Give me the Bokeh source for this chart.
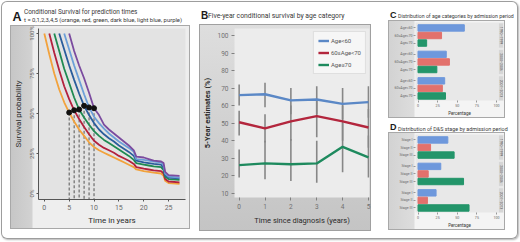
import math
from bokeh.plotting import figure
from bokeh.layouts import row, column
from bokeh.models import Range1d, FixedTicker, NumeralTickFormatter
from bokeh.core.properties import value
from bokeh.embed import file_html
from bokeh.resources import INLINE

FONT = "Roboto"

# ---------------- Panel A data: conditional survival curves ----------------
cs_times = [0, 1, 2, 3, 4, 5]
cs_names = ["orange", "red", "green", "dark blue", "light blue", "purple"]
cs_colors = ["#f2a23c", "#b3213d", "#1f8a52", "#2b5d9c", "#6c9fd8", "#7b4b9f"]

surv_t0_x = [0, 1, 2, 3, 4, 5, 6, 7, 8, 9, 10, 11, 12, 13, 14, 15, 16, 17, 18, 18.5, 20, 21, 22, 23.5, 24, 24.3, 25, 27.2]
surv_t0_y = [1.0, 0.87, 0.75, 0.65, 0.57, 0.506, 0.45, 0.40, 0.36, 0.32, 0.29, 0.27, 0.255, 0.24, 0.225, 0.21, 0.195, 0.18, 0.165, 0.15, 0.14, 0.135, 0.13, 0.125, 0.11, 0.08, 0.065, 0.06]
surv_t1_x = [1, 2, 3, 4, 5, 6, 7, 8, 9, 10, 11, 12, 13, 14, 15, 16, 17, 18, 18.5, 20, 21, 22, 23.5, 24, 24.3, 25, 27.2]
surv_t1_y = [1.0, 0.88, 0.77, 0.67, 0.59, 0.52, 0.465, 0.415, 0.37, 0.33, 0.305, 0.285, 0.27, 0.255, 0.235, 0.22, 0.205, 0.185, 0.165, 0.155, 0.15, 0.145, 0.14, 0.125, 0.09, 0.075, 0.07]
surv_t2_x = [2, 3, 4, 5, 6, 7, 8, 9, 10, 11, 12, 13, 14, 15, 16, 17, 18, 18.5, 20, 21, 22, 23.5, 24, 24.3, 25, 27.2]
surv_t2_y = [1.0, 0.89, 0.78, 0.69, 0.60, 0.525, 0.475, 0.43, 0.39, 0.36, 0.335, 0.315, 0.295, 0.275, 0.255, 0.235, 0.21, 0.19, 0.18, 0.175, 0.17, 0.165, 0.145, 0.105, 0.09, 0.085]
surv_t3_x = [3, 4, 5, 6, 7, 8, 9, 10, 11, 12, 13, 14, 15, 16, 17, 18, 18.5, 20, 21, 22, 23.5, 24, 24.3, 25, 27.2]
surv_t3_y = [1.0, 0.90, 0.80, 0.71, 0.625, 0.548, 0.49, 0.44, 0.40, 0.37, 0.345, 0.325, 0.30, 0.28, 0.26, 0.235, 0.205, 0.195, 0.19, 0.185, 0.18, 0.16, 0.115, 0.10, 0.095]
surv_t4_x = [4, 5, 6, 7, 8, 9, 10, 11, 12, 13, 14, 15, 16, 17, 18, 18.5, 20, 21, 22, 23.5, 24, 24.3, 25, 27.2]
surv_t4_y = [1.0, 0.90, 0.80, 0.71, 0.62, 0.538, 0.48, 0.44, 0.405, 0.375, 0.35, 0.325, 0.305, 0.285, 0.26, 0.215, 0.21, 0.205, 0.20, 0.195, 0.175, 0.125, 0.105, 0.10]
surv_t5_x = [5, 6, 7, 8, 9, 10, 11, 12, 13, 14, 15, 16, 17, 18, 18.5, 20, 21, 22, 23.5, 24, 24.3, 25, 27.2]
surv_t5_y = [1.0, 0.89, 0.80, 0.72, 0.63, 0.533, 0.49, 0.43, 0.40, 0.375, 0.35, 0.325, 0.30, 0.27, 0.23, 0.225, 0.215, 0.205, 0.20, 0.19, 0.135, 0.115, 0.11]

cs_horizon = 5
cs_five_year = [0.506, 0.52, 0.525, 0.548, 0.538, 0.533]
a_xticks = [0, 5, 10, 15, 20, 25]
a_yticks = [0, 0.25, 0.5, 0.75, 1.0]

# ---------------- Panel B data ----------------
b_years = [0, 1, 2, 3, 4, 5]
b_labels = ["Age<60", "60\u2264Age<70", "Age\u226570"]
b_colors = ["#5b88c6", "#b3263d", "#1e8a5e"]
b_lt60 = [66, 66.5, 63, 63.5, 61, 62]
b_lt60_lo = [60, 59, 55, 55, 52, 53]
b_lt60_hi = [72, 73, 70, 71, 70, 71]
b_60to70 = [50.5, 47, 51, 54, 51, 47.5]
b_60to70_lo = [43, 39, 40, 42, 40, 36]
b_60to70_hi = [57, 55, 60, 63, 60, 58]
b_ge70 = [26, 27, 26.5, 27, 36.5, 30.5]
b_ge70_lo = [19, 18, 17, 16, 22, 19]
b_ge70_hi = [35, 40, 41, 40, 50, 43]
b_yticks = [10, 20, 30, 40, 50, 60, 70, 80, 90, 100]

# ---------------- Panels C / D data ----------------
periods = ["1990\u20131999", "2000\u20132006", "2007\u20132013"]
c_labels = ["Age<60", "60\u2264Age<70", "Age\u226570"]
c_lt60 = [59, 36, 34]
c_60to70 = [30, 40, 31]
c_ge70 = [11, 24, 35]
d_labels = ["Stage I", "Stage II", "Stage III"]
d_stage1 = [38, 29, 23]
d_stage2 = [16, 13, 12]
d_stage3 = [46, 58, 65]
bar_colors = ["#6e98dc", "#e2716c", "#23956a"]
cd_xticks = [0, 25, 50, 75, 100]


def text_panel(w, h, letter, lx, ly, lsize, lines):
    p = figure(width=w, height=h, x_range=Range1d(0, w), y_range=Range1d(h, 0),
               output_backend="svg", toolbar_location=None, min_border=0,
               x_axis_location=None, y_axis_location=None,
               outline_line_color=None, background_fill_color=None, border_fill_color=None)
    p.grid.visible = False
    p.text(x=[lx], y=[ly], text=[letter], text_font=value("Liberation Sans"),
           text_font_size=lsize, text_font_style="bold", text_color="#1a1a1a",
           text_baseline="middle", text_align="left")
    for (x, y, s, fs) in lines:
        p.text(x=[x], y=[y], text=[s], text_font=value(FONT), text_font_size=fs,
               text_color="#383838", text_baseline="middle", text_align="left")
    return row(p, spacing=0)


def style_axes(p, tick_size, label_size, tick_color="#666666", label_color="#333333"):
    p.axis.major_label_text_font = FONT
    p.axis.axis_label_text_font = FONT
    p.axis.major_label_text_font_size = tick_size
    p.axis.axis_label_text_font_size = label_size
    p.axis.major_label_text_color = tick_color
    p.axis.axis_label_text_color = label_color
    p.axis.axis_label_text_font_style = "normal"
    p.axis.minor_tick_line_color = None
    p.grid.visible = False


# ---------------- Panel A ----------------
tA = text_panel(180, 24, "A", 2, 15, "12.5px",
                [(13.5, 10, "Conditional Survival for prediction times", "6.4px"),
                 (13.5, 18, "t = 0,1,2,3,4,5 (orange, red, green, dark blue, light blue, purple)", "5.9px")])

pA = figure(width=180, height=204, x_range=Range1d(-1.17, 28.4), y_range=Range1d(-0.0375, 1.031),
            output_backend="svg", toolbar_location=None,
            min_border_left=23, min_border_right=5, min_border_top=3, min_border_bottom=30,
            background_fill_color="#e3e3e3", border_fill_color=None, outline_line_color=None)
pA.styles = {"background": "linear-gradient(to right, #c6c6c6 0px, #d2d2d2 22px, #eeeeee 23px)",
             "box-shadow": "inset 0 0 0 1px #a8a8a8"}
style_axes(pA, "7px", "8px", tick_color="#6a6a6a", label_color="#2a2a2a")
pA.xaxis.ticker = FixedTicker(ticks=a_xticks)
pA.yaxis.ticker = FixedTicker(ticks=a_yticks)
pA.yaxis.formatter = NumeralTickFormatter(format="0%")
pA.yaxis.major_label_orientation = "vertical"
pA.yaxis.major_label_text_font_size = "6px"
pA.axis.axis_line_color = "#555555"
pA.axis.major_tick_line_color = "#555555"
pA.axis.major_tick_in = 0
pA.axis.major_tick_out = 2
pA.xaxis.major_label_standoff = 3
pA.yaxis.major_label_standoff = 1
pA.xaxis.axis_label = "Time in years"
pA.yaxis.axis_label = "Survival probability"
pA.xaxis.axis_label_standoff = 3
pA.yaxis.axis_label_standoff = 3

dot_x = [t + cs_horizon for t in cs_times]
y_floor = pA.y_range.start
pA.segment(x0=dot_x, y0=cs_five_year, x1=dot_x, y1=[y_floor] * len(dot_x),
           line_color="#555555", line_width=1, line_dash="3 2")
curves = [(surv_t0_x, surv_t0_y), (surv_t1_x, surv_t1_y), (surv_t2_x, surv_t2_y),
          (surv_t3_x, surv_t3_y), (surv_t4_x, surv_t4_y), (surv_t5_x, surv_t5_y)]
for (xs, ys), col in zip(curves, cs_colors):
    pA.line(xs, ys, line_color=col, line_width=1.8)
pA.scatter(dot_x, cs_five_year, size=5, color="#111111")

# ---------------- Panel B ----------------
tB = text_panel(172, 22, "B", 1.5, 12.5, "10px",
                [(8.5, 13.7, "Five-year conditional survival by age category", "6.8px")])

pB = figure(width=172, height=207, x_range=Range1d(-0.18, 5.04), y_range=Range1d(7.55, 104),
            output_backend="svg", toolbar_location=None,
            min_border_left=29, min_border_right=2, min_border_top=4, min_border_bottom=34,
            background_fill_color="#ececec", border_fill_color=None, outline_line_color=None)
pB.styles = {"background": "linear-gradient(to bottom, #dedede 0%, #c4c4c4 100%)",
             "box-shadow": "inset 0 0 0 1px #a0a0a0"}
style_axes(pB, "6.5px", "7.5px", tick_color="#707070", label_color="#2a2a2a")
pB.xaxis.ticker = FixedTicker(ticks=b_years)
pB.yaxis.ticker = FixedTicker(ticks=b_yticks)
pB.axis.axis_line_color = None
pB.axis.major_tick_line_color = "#808080"
pB.axis.major_tick_in = 0
pB.axis.major_tick_out = 3
pB.axis.major_label_standoff = 3
pB.xaxis.axis_label = "Time since diagnosis (years)"
pB.yaxis.axis_label = "5-Year estimates (%)"
pB.yaxis.axis_label_text_font_style = "bold"
pB.yaxis.axis_label_text_font_size = "7.5px"
pB.xaxis.axis_label_standoff = 4
pB.yaxis.axis_label_standoff = 3

series_b = [(b_lt60, b_lt60_lo, b_lt60_hi), (b_60to70, b_60to70_lo, b_60to70_hi), (b_ge70, b_ge70_lo, b_ge70_hi)]
for (vals, lo, hi) in series_b:
    pB.segment(x0=b_years, y0=lo, x1=b_years, y1=hi, line_color="#878787", line_width=1.6)
for (vals, lo, hi), col, lab in zip(series_b, b_colors, b_labels):
    pB.line(b_years, vals, line_color=col, line_width=2.4, legend_label=lab)
lg = pB.legend[0]
lg.location = "top_right"
lg.margin = 3
lg.padding = 4
lg.spacing = 3
lg.label_standoff = 2
lg.glyph_width = 11
lg.glyph_height = 9
lg.label_height = 9
lg.label_text_font = FONT
lg.label_text_font_size = "6px"
lg.label_text_color = "#555555"
lg.border_line_color = "#c8c8c8"
lg.background_fill_color = "#f7f7f7"
lg.background_fill_alpha = 0.95


# ---------------- Panels C and D ----------------
def bar_panel(labels, s1, s2, s3):
    p = figure(width=117, height=98, x_range=Range1d(-3.2, 108.9), y_range=Range1d(19.2, -1.44),
               output_backend="svg", toolbar_location=None,
               min_border_left=27, min_border_right=2, min_border_top=2, min_border_bottom=13,
               background_fill_color="#e8e8e8", border_fill_color=None, outline_line_color=None)
    p.styles = {"background": "linear-gradient(to right, #d2d2d2 0px, #dddddd 26px, #f4f4f4 27px)",
                "box-shadow": "inset 0 0 0 1px #a8a8a8"}
    style_axes(p, "3.6px", "4.5px", tick_color="#666666", label_color="#333333")
    ticks, overrides = [], {}
    for g in range(len(periods)):
        for i in range(3):
            pos = g * 7 + i * 2
            ticks.append(pos)
            overrides[pos] = labels[i]
    p.yaxis.ticker = FixedTicker(ticks=ticks)
    p.yaxis.major_label_overrides = overrides
    p.xaxis.ticker = FixedTicker(ticks=cd_xticks)
    p.axis.axis_line_color = None
    p.axis.major_tick_line_color = "#999999"
    p.axis.major_tick_in = 0
    p.axis.major_tick_out = 2
    p.axis.major_label_standoff = 1
    p.xaxis.axis_label = "Percentage"
    p.xaxis.axis_label_standoff = 1
    for i, (vals, col) in enumerate(zip([s1, s2, s3], bar_colors)):
        ys = [g * 7 + i * 2 for g in range(len(vals))]
        p.hbar(y=ys, left=0, right=vals, height=1.7, color=col)
    strip_top = [g * 7 - 1.3 for g in range(len(periods))]
    strip_bot = [g * 7 + 5.3 for g in range(len(periods))]
    p.quad(left=102.5, right=108.9, top=strip_top, bottom=strip_bot, fill_color="#d6d6d6",
           line_color="#f0f0f0", line_width=0.5)
    p.text(x=[105.7] * len(periods), y=[g * 7 + 2 for g in range(len(periods))], text=periods,
           angle=-math.pi / 2, text_font=value(FONT), text_font_size="3.4px", text_color="#555555",
           text_align="center", text_baseline="middle")
    return p


tC = text_panel(128, 18, "C", 1.5, 12.3, "9px",
                [(9.5, 13, "Distribution of age categories by admission period", "5.2px")])
pC = bar_panel(c_labels, c_lt60, c_60to70, c_ge70)
tD = text_panel(128, 14, "D", 1.5, 8, "9px",
                [(9.5, 10.3, "Distribution of D&S stage by admission period", "5.4px")])
pD = bar_panel(d_labels, d_stage1, d_stage2, d_stage3)

colA = column(tA, pA, spacing=0, margin=(0, 0, 0, 9))
colB = column(tB, pB, spacing=0, margin=(1, 0, 0, 9))
colCD = column(tC, pC, tD, pD, spacing=0, margin=(1, 0, 0, 17))
root = row(colA, colB, colCD, spacing=0, width=517, height=238, margin=(1, 0, 0, 1),
           styles={"border-radius": "6px", "background": "#ffffff",
                   "box-shadow": "inset 0 0 0 1px #9d9d9d, 1px 1px 2px #b5b5b5"})

open("out.html", "w").write(file_html(root, INLINE))
